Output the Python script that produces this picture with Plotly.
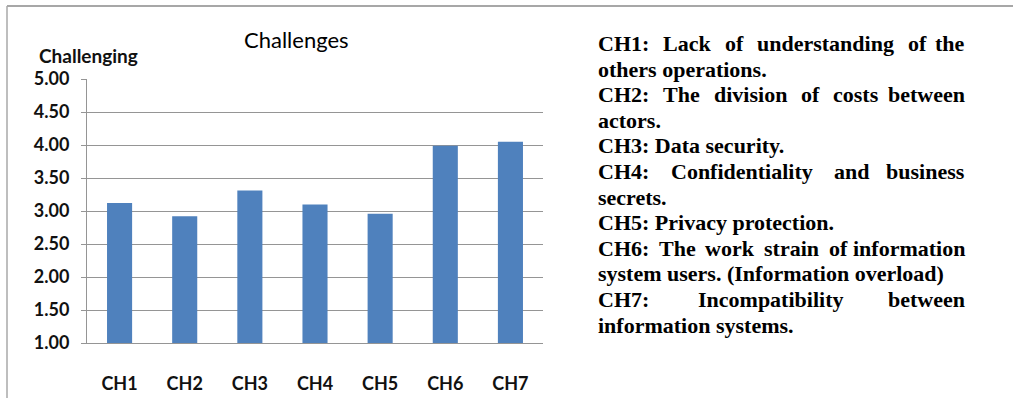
import plotly.graph_objects as go

# ---- data -------------------------------------------------------------
categories = ["CH1", "CH2", "CH3", "CH4", "CH5", "CH6", "CH7"]
scores = [3.12, 2.92, 3.31, 3.10, 2.96, 3.99, 4.05]
y_ticks = [1.0, 1.5, 2.0, 2.5, 3.0, 3.5, 4.0, 4.5, 5.0]

chart_title = "Challenges"
y_title = "Challenging"

# Legend text: (line, justified?)
legend_lines = [
    ("CH1: Lack of understanding of the", True),
    ("others operations.", False),
    ("CH2: The division of costs between", True),
    ("actors.", False),
    ("CH3: Data security.", False),
    ("CH4: Confidentiality and business", True),
    ("secrets.", False),
    ("CH5: Privacy protection.", False),
    ("CH6: The work strain of information", True),
    ("system users. (Information overload)", False),
    ("CH7: Incompatibility between", True),
    ("information systems.", False),
]

# ---- page geometry (pixels) -------------------------------------------
W, H = 1013, 398
PL, PR, PT, PB = 87, 543, 79, 343          # plot area edges

def fx(px):
    return (px - PL) / (PR - PL)

def fy(py):
    return (PB - py) / (PB - PT)

GRID = "#959595"
BAR = "#4F81BD"
SANS = "Lato"
SERIF = "Liberation Serif"

fig = go.Figure(
    go.Bar(
        x=categories,
        y=scores,
        marker=dict(color=BAR, line=dict(width=0)),
        hoverinfo="x+y",
    )
)

fig.update_layout(
    width=W,
    height=H,
    margin=dict(l=PL, r=W - PR, t=PT, b=H - PB, pad=0, autoexpand=False),
    paper_bgcolor="white",
    plot_bgcolor="white",
    showlegend=False,
    bargap=0.615,
)

fig.update_yaxes(
    range=[1, 5],
    tickvals=y_ticks,
    tickformat=".2f",
    showgrid=True,
    gridcolor=GRID,
    gridwidth=1,
    showline=True,
    linecolor=GRID,
    linewidth=1,
    ticks="outside",
    ticklen=5,
    tickcolor=GRID,
    tickfont=dict(family=SANS, size=18, color="#111111", weight="bold"),
    ticklabelstandoff=8,
    zeroline=False,
    automargin=False,
    fixedrange=True,
)

fig.update_xaxes(
    showline=True,
    linecolor=GRID,
    linewidth=1,
    ticks="",
    tickfont=dict(family=SANS, size=18, color="#111111", weight="bold"),
    ticklabelstandoff=24,
    automargin=False,
    fixedrange=True,
)

annotations = []

# chart title and y-axis caption
annotations.append(dict(
    text=chart_title, x=fx(296), y=fy(39.5), xref="paper", yref="paper",
    xanchor="center", yanchor="middle", showarrow=False,
    font=dict(family=SANS, size=22, color="#000000"),
))
annotations.append(dict(
    text=y_title, x=fx(37), y=fy(56), xref="paper", yref="paper",
    xanchor="left", yanchor="middle", showarrow=False,
    font=dict(family=SANS, size=19, color="#111111", weight="bold"),
))

# ---- legend text block (Times bold, justified like the source text) ----
TIMES_BOLD = {
    " ": 250, ".": 250, ":": 333, "(": 333, ")": 333,
    "0": 500, "1": 500, "2": 500, "3": 500, "4": 500, "5": 500,
    "6": 500, "7": 500, "8": 500, "9": 500,
    "a": 500, "b": 556, "c": 444, "d": 556, "e": 444, "f": 333, "g": 500,
    "h": 556, "i": 278, "j": 333, "k": 556, "l": 278, "m": 833, "n": 556,
    "o": 500, "p": 556, "q": 556, "r": 444, "s": 389, "t": 333, "u": 556,
    "v": 500, "w": 722, "x": 500, "y": 500, "z": 444,
    "C": 722, "D": 722, "H": 778, "I": 389, "L": 667, "P": 611, "T": 667,
}

TXT_SIZE = 22
TXT_LEFT, TXT_RIGHT = 596, 967
LINE0, LINE_STEP = 43.5, 25.6

def word_width(word):
    return sum(TIMES_BOLD.get(ch, 500) for ch in word) * TXT_SIZE / 1000.0

def text_ann(text, px, py, anchor):
    return dict(
        text=text, x=fx(px), y=fy(py), xref="paper", yref="paper",
        xanchor=anchor, yanchor="middle", showarrow=False,
        font=dict(family=SERIF, size=TXT_SIZE, color="black", weight="bold"),
    )

for i, (line, justified) in enumerate(legend_lines):
    py = LINE0 + i * LINE_STEP
    if not justified:
        annotations.append(text_ann(line, TXT_LEFT, py, "left"))
        continue
    words = line.split(" ")
    widths = [word_width(w) for w in words]
    gap = (TXT_RIGHT - TXT_LEFT - sum(widths)) / (len(words) - 1)
    x = TXT_LEFT
    for j, (w, ww) in enumerate(zip(words, widths)):
        if j == len(words) - 1:
            annotations.append(text_ann(w, TXT_RIGHT, py, "right"))
        else:
            annotations.append(text_ann(w, x, py, "left"))
        x += ww + gap

fig.update_layout(annotations=annotations)

# frame lines along the top and left edges of the page
fig.add_shape(type="line", xref="paper", yref="paper",
              x0=fx(7), x1=fx(W), y0=fy(6), y1=fy(6),
              line=dict(color="#8a8a8a", width=1.5))
fig.add_shape(type="line", xref="paper", yref="paper",
              x0=fx(7), x1=fx(7), y0=fy(6), y1=fy(H),
              line=dict(color="#a8a8a8", width=1.5))

fig.write_html("out.html", config={"displayModeBar": False})
